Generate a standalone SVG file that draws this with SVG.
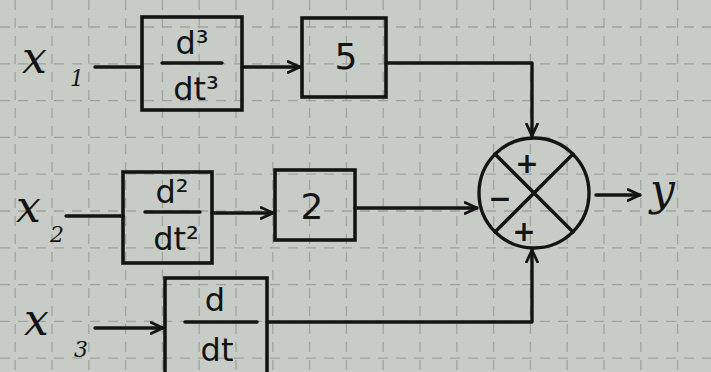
<svg xmlns="http://www.w3.org/2000/svg" width="711" height="372" viewBox="0 0 711 372">
  <style>
    .ink { fill: none; stroke: #141414; stroke-width: 3.4; stroke-linecap: round; stroke-linejoin: round; }
    .box { fill: none; stroke: #141414; stroke-width: 3.6; }
    .grid { stroke: #9ea39e; stroke-width: 1.3; stroke-dasharray: 10 8; }
    .lbl { font-family: "DejaVu Serif", "Liberation Serif", serif; font-style: italic; fill: #141414; }
    .frac { font-family: "DejaVu Sans", "Liberation Sans", sans-serif; fill: #141414; font-size: 32px; text-anchor: middle; }
    .num { font-family: "DejaVu Sans", "Liberation Sans", sans-serif; fill: #141414; font-size: 36px; text-anchor: middle; }
    .sign { font-family: "DejaVu Sans", "Liberation Sans", sans-serif; fill: #141414; font-size: 28px; font-weight: bold; text-anchor: middle; }
  </style>
  <defs>
    <marker id="arrow" viewBox="0 0 14 14" refX="13" refY="7" markerWidth="14" markerHeight="14" markerUnits="userSpaceOnUse" orient="auto">
      <path d="M1,1.5 L13,7 L1,12.5" fill="none" stroke="#141414" stroke-width="2.8" stroke-linecap="round" stroke-linejoin="round"/>
    </marker>
  </defs>

  <!-- graph paper -->
  <rect width="711" height="372" fill="#c8ccc7"/>
  <g id="paper-grid">
    <line class="grid" x1="0" y1="27" x2="711" y2="27"/>
    <line class="grid" x1="0" y1="63.8" x2="711" y2="63.8"/>
    <line class="grid" x1="0" y1="100.6" x2="711" y2="100.6"/>
    <line class="grid" x1="0" y1="137.4" x2="711" y2="137.4"/>
    <line class="grid" x1="0" y1="174.2" x2="711" y2="174.2"/>
    <line class="grid" x1="0" y1="211" x2="711" y2="211"/>
    <line class="grid" x1="0" y1="247.8" x2="711" y2="247.8"/>
    <line class="grid" x1="0" y1="284.6" x2="711" y2="284.6"/>
    <line class="grid" x1="0" y1="321.4" x2="711" y2="321.4"/>
    <line class="grid" x1="0" y1="358.2" x2="711" y2="358.2"/>
    <line class="grid" x1="15.2" y1="0" x2="15.2" y2="372"/>
    <line class="grid" x1="52" y1="0" x2="52" y2="372"/>
    <line class="grid" x1="88.8" y1="0" x2="88.8" y2="372"/>
    <line class="grid" x1="125.6" y1="0" x2="125.6" y2="372"/>
    <line class="grid" x1="162.4" y1="0" x2="162.4" y2="372"/>
    <line class="grid" x1="199.2" y1="0" x2="199.2" y2="372"/>
    <line class="grid" x1="236" y1="0" x2="236" y2="372"/>
    <line class="grid" x1="272.8" y1="0" x2="272.8" y2="372"/>
    <line class="grid" x1="309.6" y1="0" x2="309.6" y2="372"/>
    <line class="grid" x1="346.4" y1="0" x2="346.4" y2="372"/>
    <line class="grid" x1="383.2" y1="0" x2="383.2" y2="372"/>
    <line class="grid" x1="420" y1="0" x2="420" y2="372"/>
    <line class="grid" x1="456.8" y1="0" x2="456.8" y2="372"/>
    <line class="grid" x1="493.6" y1="0" x2="493.6" y2="372"/>
    <line class="grid" x1="530.4" y1="0" x2="530.4" y2="372"/>
    <line class="grid" x1="567.2" y1="0" x2="567.2" y2="372"/>
    <line class="grid" x1="604" y1="0" x2="604" y2="372"/>
    <line class="grid" x1="640.8" y1="0" x2="640.8" y2="372"/>
    <line class="grid" x1="677.6" y1="0" x2="677.6" y2="372"/>
  </g>

  <!-- input labels -->
  <g id="x1">
    <text class="lbl" x="22" y="73" font-size="44">x</text>
    <text class="lbl" x="70" y="86" font-size="22">1</text>
  </g>
  <g id="x2">
    <text class="lbl" x="16" y="222" font-size="44">x</text>
    <text class="lbl" x="50" y="242" font-size="22">2</text>
  </g>
  <g id="x3">
    <text class="lbl" x="24" y="335" font-size="44">x</text>
    <text class="lbl" x="74" y="357" font-size="22">3</text>
  </g>

  <!-- derivative blocks -->
  <g id="d3dt3">
    <rect class="box" x="142" y="17" width="100" height="93"/>
    <line class="ink" x1="162" y1="63" x2="222" y2="63"/>
    <text class="frac" x="192" y="54">d³</text>
    <text class="frac" x="196" y="100">dt³</text>
  </g>
  <g id="d2dt2">
    <rect class="box" x="123" y="172" width="89" height="91"/>
    <line class="ink" x1="145" y1="212" x2="200" y2="212"/>
    <text class="frac" x="172" y="203">d²</text>
    <text class="frac" x="176" y="250">dt²</text>
  </g>
  <g id="ddt">
    <rect class="box" x="165" y="278" width="102" height="100"/>
    <line class="ink" x1="185" y1="322" x2="257" y2="322"/>
    <text class="frac" x="215" y="311">d</text>
    <text class="frac" x="217" y="361">dt</text>
  </g>

  <!-- gain blocks -->
  <g id="gain5">
    <rect class="box" x="302" y="18" width="84" height="79"/>
    <text class="num" x="346" y="69">5</text>
  </g>
  <g id="gain2">
    <rect class="box" x="275" y="170" width="80" height="70"/>
    <text class="num" x="312" y="219">2</text>
  </g>

  <!-- summing junction -->
  <g id="sum">
    <circle class="ink" cx="534" cy="193" r="55"/>
    <line class="ink" x1="495" y1="154" x2="573" y2="232"/>
    <line class="ink" x1="573" y1="154" x2="495" y2="232"/>
    <text class="sign" x="527" y="173">+</text>
    <text class="sign" x="500" y="208">−</text>
    <text class="sign" x="524" y="241">+</text>
  </g>

  <!-- output label -->
  <g id="y">
    <text class="lbl" x="650" y="205" font-size="44">y</text>
  </g>

  <!-- connectors -->
  <g id="connectors">
    <line class="ink" x1="95" y1="67" x2="142" y2="67"/>
    <line class="ink" x1="242" y1="67" x2="300" y2="67" marker-end="url(#arrow)"/>
    <polyline class="ink" points="386,63 532,63 532,136" marker-end="url(#arrow)"/>

    <line class="ink" x1="66" y1="216" x2="123" y2="216"/>
    <line class="ink" x1="212" y1="213" x2="273" y2="213" marker-end="url(#arrow)"/>
    <line class="ink" x1="355" y1="208" x2="477" y2="208" marker-end="url(#arrow)"/>

    <line class="ink" x1="95" y1="328" x2="163" y2="328" marker-end="url(#arrow)"/>
    <polyline class="ink" points="267,322 532,322 532,250" marker-end="url(#arrow)"/>

    <line class="ink" x1="596" y1="195" x2="640" y2="195" marker-end="url(#arrow)"/>
  </g>
</svg>
